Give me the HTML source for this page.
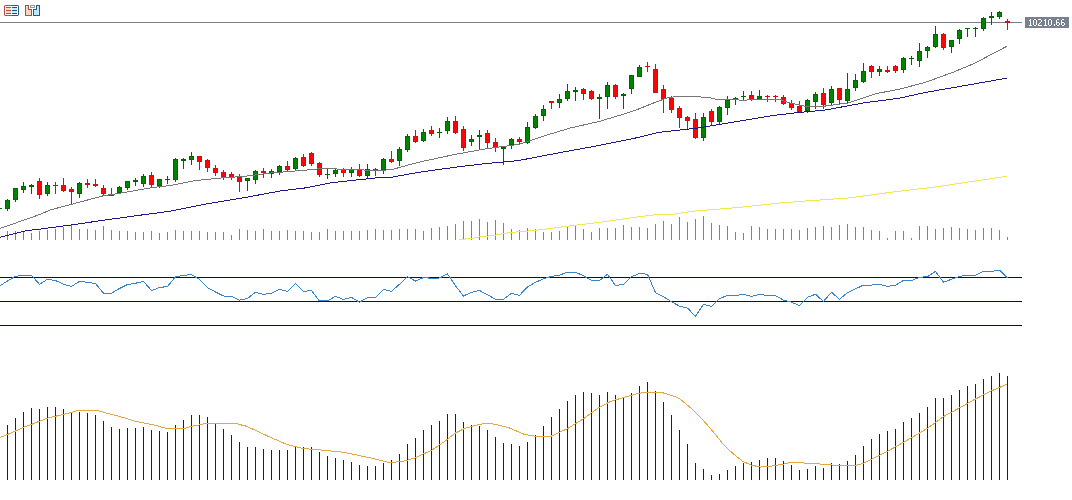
<!DOCTYPE html>
<html><head><meta charset="utf-8"><style>
html,body{margin:0;padding:0;background:#fff;width:1072px;height:500px;overflow:hidden;}
.wrap{position:relative;width:1072px;height:500px;}
svg{position:absolute;left:0;top:0;}
.lbl{position:absolute;left:1025px;top:17px;width:44px;height:11px;color:#fff;font-family:"Liberation Sans",sans-serif;font-size:9px;line-height:11px;text-align:center;letter-spacing:0px;transform:scaleY(1.12);transform-origin:50% 55%;}
</style></head><body><div class="wrap"><svg width="1072" height="500" viewBox="0 0 1072 500"><defs><clipPath id="mainclip"><rect x="0" y="23" width="1022" height="217"/></clipPath></defs><rect x="0" y="22" width="1022" height="1" fill="#7c7c84"/><g fill="#52a25c" shape-rendering="crispEdges"><rect x="7" y="231" width="1" height="9"/><rect x="15" y="231" width="1" height="9"/><rect x="23" y="232" width="1" height="8"/><rect x="31" y="233" width="1" height="7"/><rect x="39" y="231" width="1" height="9"/><rect x="47" y="230" width="1" height="10"/><rect x="55" y="229" width="1" height="11"/><rect x="63" y="227" width="1" height="13"/><rect x="71" y="225" width="1" height="15"/><rect x="79" y="229" width="1" height="11"/><rect x="87" y="229" width="1" height="11"/><rect x="95" y="230" width="1" height="10"/><rect x="103" y="226" width="1" height="14"/><rect x="111" y="230" width="1" height="10"/><rect x="119" y="231" width="1" height="9"/><rect x="127" y="231" width="1" height="9"/><rect x="135" y="232" width="1" height="8"/><rect x="143" y="232" width="1" height="8"/><rect x="151" y="231" width="1" height="9"/><rect x="159" y="233" width="1" height="7"/><rect x="167" y="232" width="1" height="8"/><rect x="175" y="230" width="1" height="10"/><rect x="183" y="231" width="1" height="9"/><rect x="191" y="231" width="1" height="9"/><rect x="199" y="231" width="1" height="9"/><rect x="207" y="232" width="1" height="8"/><rect x="215" y="232" width="1" height="8"/><rect x="223" y="232" width="1" height="8"/><rect x="231" y="235" width="1" height="5"/><rect x="239" y="229" width="1" height="11"/><rect x="247" y="230" width="1" height="10"/><rect x="255" y="231" width="1" height="9"/><rect x="263" y="229" width="1" height="11"/><rect x="271" y="231" width="1" height="9"/><rect x="279" y="231" width="1" height="9"/><rect x="287" y="230" width="1" height="10"/><rect x="295" y="231" width="1" height="9"/><rect x="303" y="231" width="1" height="9"/><rect x="311" y="232" width="1" height="8"/><rect x="319" y="232" width="1" height="8"/><rect x="327" y="229" width="1" height="11"/><rect x="335" y="231" width="1" height="9"/><rect x="343" y="231" width="1" height="9"/><rect x="351" y="231" width="1" height="9"/><rect x="359" y="231" width="1" height="9"/><rect x="367" y="230" width="1" height="10"/><rect x="375" y="229" width="1" height="11"/><rect x="383" y="230" width="1" height="10"/><rect x="391" y="230" width="1" height="10"/><rect x="399" y="229" width="1" height="11"/><rect x="407" y="229" width="1" height="11"/><rect x="415" y="229" width="1" height="11"/><rect x="423" y="231" width="1" height="9"/><rect x="431" y="228" width="1" height="12"/><rect x="439" y="227" width="1" height="13"/><rect x="447" y="226" width="1" height="14"/><rect x="455" y="224" width="1" height="16"/><rect x="463" y="221" width="1" height="19"/><rect x="471" y="221" width="1" height="19"/><rect x="479" y="219" width="1" height="21"/><rect x="487" y="222" width="1" height="18"/><rect x="495" y="220" width="1" height="20"/><rect x="503" y="223" width="1" height="17"/><rect x="511" y="229" width="1" height="11"/><rect x="519" y="230" width="1" height="10"/><rect x="527" y="228" width="1" height="12"/><rect x="535" y="229" width="1" height="11"/><rect x="543" y="232" width="1" height="8"/><rect x="551" y="232" width="1" height="8"/><rect x="559" y="231" width="1" height="9"/><rect x="567" y="227" width="1" height="13"/><rect x="575" y="226" width="1" height="14"/><rect x="583" y="229" width="1" height="11"/><rect x="591" y="232" width="1" height="8"/><rect x="599" y="228" width="1" height="12"/><rect x="607" y="228" width="1" height="12"/><rect x="615" y="228" width="1" height="12"/><rect x="623" y="225" width="1" height="15"/><rect x="631" y="227" width="1" height="13"/><rect x="639" y="227" width="1" height="13"/><rect x="647" y="228" width="1" height="12"/><rect x="655" y="224" width="1" height="16"/><rect x="663" y="221" width="1" height="19"/><rect x="671" y="224" width="1" height="16"/><rect x="679" y="217" width="1" height="23"/><rect x="687" y="222" width="1" height="18"/><rect x="695" y="219" width="1" height="21"/><rect x="703" y="216" width="1" height="24"/><rect x="711" y="223" width="1" height="17"/><rect x="719" y="225" width="1" height="15"/><rect x="727" y="226" width="1" height="14"/><rect x="735" y="232" width="1" height="8"/><rect x="743" y="233" width="1" height="7"/><rect x="751" y="226" width="1" height="14"/><rect x="759" y="227" width="1" height="13"/><rect x="767" y="229" width="1" height="11"/><rect x="775" y="229" width="1" height="11"/><rect x="783" y="229" width="1" height="11"/><rect x="791" y="229" width="1" height="11"/><rect x="799" y="230" width="1" height="10"/><rect x="807" y="228" width="1" height="12"/><rect x="815" y="227" width="1" height="13"/><rect x="823" y="226" width="1" height="14"/><rect x="831" y="227" width="1" height="13"/><rect x="839" y="225" width="1" height="15"/><rect x="847" y="224" width="1" height="16"/><rect x="855" y="227" width="1" height="13"/><rect x="863" y="227" width="1" height="13"/><rect x="871" y="230" width="1" height="10"/><rect x="879" y="231" width="1" height="9"/><rect x="887" y="238" width="1" height="2"/><rect x="895" y="231" width="1" height="9"/><rect x="903" y="231" width="1" height="9"/><rect x="911" y="238" width="1" height="2"/><rect x="919" y="226" width="1" height="14"/><rect x="927" y="226" width="1" height="14"/><rect x="935" y="229" width="1" height="11"/><rect x="943" y="228" width="1" height="12"/><rect x="951" y="227" width="1" height="13"/><rect x="959" y="228" width="1" height="12"/><rect x="967" y="229" width="1" height="11"/><rect x="975" y="230" width="1" height="10"/><rect x="983" y="228" width="1" height="12"/><rect x="991" y="228" width="1" height="12"/><rect x="999" y="230" width="1" height="10"/><rect x="1007" y="237" width="1" height="3"/></g><g shape-rendering="crispEdges"><rect x="-1" y="208" width="1" height="1" fill="#006600"/><rect x="-3" y="208" width="5" height="1" fill="#006600"/><rect x="7" y="199" width="1" height="12" fill="#006600"/><rect x="5" y="200" width="5" height="9" fill="#006600"/><rect x="6" y="201" width="3" height="7" fill="#008400"/><rect x="15" y="188" width="1" height="14" fill="#006600"/><rect x="13" y="188" width="5" height="12" fill="#006600"/><rect x="14" y="189" width="3" height="10" fill="#008400"/><rect x="23" y="182" width="1" height="11" fill="#006600"/><rect x="21" y="186" width="5" height="4" fill="#006600"/><rect x="22" y="187" width="3" height="2" fill="#008400"/><rect x="31" y="184" width="1" height="10" fill="#006600"/><rect x="29" y="185" width="5" height="2" fill="#006600"/><rect x="39" y="178" width="1" height="21" fill="#d01010"/><rect x="37" y="181" width="5" height="14" fill="#d01010"/><rect x="38" y="182" width="3" height="12" fill="#ff0404"/><rect x="47" y="182" width="1" height="14" fill="#006600"/><rect x="45" y="185" width="5" height="9" fill="#006600"/><rect x="46" y="186" width="3" height="7" fill="#008400"/><rect x="55" y="182" width="1" height="12" fill="#d01010"/><rect x="53" y="185" width="5" height="1" fill="#d01010"/><rect x="63" y="178" width="1" height="14" fill="#d01010"/><rect x="61" y="185" width="5" height="6" fill="#d01010"/><rect x="62" y="186" width="3" height="4" fill="#ff0404"/><rect x="71" y="187" width="1" height="17" fill="#d01010"/><rect x="69" y="189" width="5" height="3" fill="#d01010"/><rect x="70" y="190" width="3" height="1" fill="#ff0404"/><rect x="79" y="182" width="1" height="16" fill="#006600"/><rect x="77" y="183" width="5" height="11" fill="#006600"/><rect x="78" y="184" width="3" height="9" fill="#008400"/><rect x="87" y="179" width="1" height="9" fill="#d01010"/><rect x="85" y="183" width="5" height="2" fill="#d01010"/><rect x="95" y="179" width="1" height="8" fill="#d01010"/><rect x="93" y="184" width="5" height="2" fill="#d01010"/><rect x="103" y="185" width="1" height="11" fill="#d01010"/><rect x="101" y="188" width="5" height="6" fill="#d01010"/><rect x="102" y="189" width="3" height="4" fill="#ff0404"/><rect x="111" y="188" width="1" height="8" fill="#d01010"/><rect x="109" y="195" width="5" height="1" fill="#d01010"/><rect x="119" y="186" width="1" height="8" fill="#006600"/><rect x="117" y="187" width="5" height="6" fill="#006600"/><rect x="118" y="188" width="3" height="4" fill="#008400"/><rect x="127" y="181" width="1" height="9" fill="#006600"/><rect x="125" y="181" width="5" height="7" fill="#006600"/><rect x="126" y="182" width="3" height="5" fill="#008400"/><rect x="135" y="178" width="1" height="8" fill="#006600"/><rect x="133" y="180" width="5" height="2" fill="#006600"/><rect x="143" y="174" width="1" height="13" fill="#006600"/><rect x="141" y="176" width="5" height="8" fill="#006600"/><rect x="142" y="177" width="3" height="6" fill="#008400"/><rect x="151" y="172" width="1" height="16" fill="#d01010"/><rect x="149" y="175" width="5" height="10" fill="#d01010"/><rect x="150" y="176" width="3" height="8" fill="#ff0404"/><rect x="159" y="179" width="1" height="9" fill="#006600"/><rect x="157" y="179" width="5" height="7" fill="#006600"/><rect x="158" y="180" width="3" height="5" fill="#008400"/><rect x="167" y="176" width="1" height="8" fill="#006600"/><rect x="165" y="179" width="5" height="1" fill="#006600"/><rect x="175" y="158" width="1" height="24" fill="#006600"/><rect x="173" y="159" width="5" height="21" fill="#006600"/><rect x="174" y="160" width="3" height="19" fill="#008400"/><rect x="183" y="158" width="1" height="11" fill="#006600"/><rect x="181" y="159" width="5" height="2" fill="#006600"/><rect x="191" y="152" width="1" height="13" fill="#006600"/><rect x="189" y="156" width="5" height="4" fill="#006600"/><rect x="190" y="157" width="3" height="2" fill="#008400"/><rect x="199" y="156" width="1" height="14" fill="#d01010"/><rect x="197" y="156" width="5" height="6" fill="#d01010"/><rect x="198" y="157" width="3" height="4" fill="#ff0404"/><rect x="207" y="159" width="1" height="13" fill="#d01010"/><rect x="205" y="160" width="5" height="8" fill="#d01010"/><rect x="206" y="161" width="3" height="6" fill="#ff0404"/><rect x="215" y="165" width="1" height="11" fill="#d01010"/><rect x="213" y="168" width="5" height="5" fill="#d01010"/><rect x="214" y="169" width="3" height="3" fill="#ff0404"/><rect x="223" y="170" width="1" height="10" fill="#d01010"/><rect x="221" y="172" width="5" height="5" fill="#d01010"/><rect x="222" y="173" width="3" height="3" fill="#ff0404"/><rect x="231" y="172" width="1" height="8" fill="#d01010"/><rect x="229" y="174" width="5" height="4" fill="#d01010"/><rect x="230" y="175" width="3" height="2" fill="#ff0404"/><rect x="239" y="174" width="1" height="18" fill="#d01010"/><rect x="237" y="177" width="5" height="5" fill="#d01010"/><rect x="238" y="178" width="3" height="3" fill="#ff0404"/><rect x="247" y="178" width="1" height="13" fill="#006600"/><rect x="245" y="178" width="5" height="3" fill="#006600"/><rect x="246" y="179" width="3" height="1" fill="#008400"/><rect x="255" y="170" width="1" height="14" fill="#006600"/><rect x="253" y="171" width="5" height="9" fill="#006600"/><rect x="254" y="172" width="3" height="7" fill="#008400"/><rect x="263" y="168" width="1" height="10" fill="#d01010"/><rect x="261" y="171" width="5" height="2" fill="#d01010"/><rect x="271" y="169" width="1" height="9" fill="#006600"/><rect x="269" y="171" width="5" height="3" fill="#006600"/><rect x="270" y="172" width="3" height="1" fill="#008400"/><rect x="279" y="165" width="1" height="10" fill="#006600"/><rect x="277" y="166" width="5" height="6" fill="#006600"/><rect x="278" y="167" width="3" height="4" fill="#008400"/><rect x="287" y="161" width="1" height="11" fill="#d01010"/><rect x="285" y="166" width="5" height="4" fill="#d01010"/><rect x="286" y="167" width="3" height="2" fill="#ff0404"/><rect x="295" y="157" width="1" height="13" fill="#006600"/><rect x="293" y="158" width="5" height="11" fill="#006600"/><rect x="294" y="159" width="3" height="9" fill="#008400"/><rect x="303" y="154" width="1" height="13" fill="#d01010"/><rect x="301" y="157" width="5" height="9" fill="#d01010"/><rect x="302" y="158" width="3" height="7" fill="#ff0404"/><rect x="311" y="152" width="1" height="14" fill="#d01010"/><rect x="309" y="153" width="5" height="11" fill="#d01010"/><rect x="310" y="154" width="3" height="9" fill="#ff0404"/><rect x="319" y="162" width="1" height="15" fill="#d01010"/><rect x="317" y="163" width="5" height="12" fill="#d01010"/><rect x="318" y="164" width="3" height="10" fill="#ff0404"/><rect x="327" y="169" width="1" height="10" fill="#006600"/><rect x="325" y="174" width="5" height="1" fill="#006600"/><rect x="335" y="168" width="1" height="9" fill="#006600"/><rect x="333" y="170" width="5" height="4" fill="#006600"/><rect x="334" y="171" width="3" height="2" fill="#008400"/><rect x="343" y="168" width="1" height="9" fill="#d01010"/><rect x="341" y="169" width="5" height="4" fill="#d01010"/><rect x="342" y="170" width="3" height="2" fill="#ff0404"/><rect x="351" y="167" width="1" height="10" fill="#006600"/><rect x="349" y="169" width="5" height="4" fill="#006600"/><rect x="350" y="170" width="3" height="2" fill="#008400"/><rect x="359" y="164" width="1" height="13" fill="#d01010"/><rect x="357" y="169" width="5" height="7" fill="#d01010"/><rect x="358" y="170" width="3" height="5" fill="#ff0404"/><rect x="367" y="164" width="1" height="15" fill="#006600"/><rect x="365" y="169" width="5" height="7" fill="#006600"/><rect x="366" y="170" width="3" height="5" fill="#008400"/><rect x="375" y="168" width="1" height="8" fill="#d01010"/><rect x="373" y="169" width="5" height="1" fill="#d01010"/><rect x="383" y="158" width="1" height="16" fill="#006600"/><rect x="381" y="159" width="5" height="11" fill="#006600"/><rect x="382" y="160" width="3" height="9" fill="#008400"/><rect x="391" y="151" width="1" height="12" fill="#d01010"/><rect x="389" y="159" width="5" height="3" fill="#d01010"/><rect x="390" y="160" width="3" height="1" fill="#ff0404"/><rect x="399" y="147" width="1" height="19" fill="#006600"/><rect x="397" y="149" width="5" height="12" fill="#006600"/><rect x="398" y="150" width="3" height="10" fill="#008400"/><rect x="407" y="134" width="1" height="18" fill="#006600"/><rect x="405" y="136" width="5" height="14" fill="#006600"/><rect x="406" y="137" width="3" height="12" fill="#008400"/><rect x="415" y="130" width="1" height="13" fill="#d01010"/><rect x="413" y="136" width="5" height="6" fill="#d01010"/><rect x="414" y="137" width="3" height="4" fill="#ff0404"/><rect x="423" y="129" width="1" height="13" fill="#006600"/><rect x="421" y="132" width="5" height="9" fill="#006600"/><rect x="422" y="133" width="3" height="7" fill="#008400"/><rect x="431" y="126" width="1" height="10" fill="#d01010"/><rect x="429" y="130" width="5" height="4" fill="#d01010"/><rect x="430" y="131" width="3" height="2" fill="#ff0404"/><rect x="439" y="128" width="1" height="10" fill="#006600"/><rect x="437" y="132" width="5" height="1" fill="#006600"/><rect x="447" y="117" width="1" height="17" fill="#006600"/><rect x="445" y="121" width="5" height="10" fill="#006600"/><rect x="446" y="122" width="3" height="8" fill="#008400"/><rect x="455" y="116" width="1" height="18" fill="#d01010"/><rect x="453" y="121" width="5" height="12" fill="#d01010"/><rect x="454" y="122" width="3" height="10" fill="#ff0404"/><rect x="463" y="126" width="1" height="25" fill="#d01010"/><rect x="461" y="129" width="5" height="19" fill="#d01010"/><rect x="462" y="130" width="3" height="17" fill="#ff0404"/><rect x="471" y="135" width="1" height="11" fill="#006600"/><rect x="469" y="139" width="5" height="3" fill="#006600"/><rect x="470" y="140" width="3" height="1" fill="#008400"/><rect x="479" y="130" width="1" height="19" fill="#006600"/><rect x="477" y="135" width="5" height="2" fill="#006600"/><rect x="487" y="130" width="1" height="19" fill="#d01010"/><rect x="485" y="133" width="5" height="10" fill="#d01010"/><rect x="486" y="134" width="3" height="8" fill="#ff0404"/><rect x="495" y="138" width="1" height="14" fill="#d01010"/><rect x="493" y="142" width="5" height="6" fill="#d01010"/><rect x="494" y="143" width="3" height="4" fill="#ff0404"/><rect x="503" y="147" width="1" height="18" fill="#006600"/><rect x="501" y="147" width="5" height="2" fill="#006600"/><rect x="511" y="138" width="1" height="11" fill="#006600"/><rect x="509" y="139" width="5" height="6" fill="#006600"/><rect x="510" y="140" width="3" height="4" fill="#008400"/><rect x="519" y="137" width="1" height="7" fill="#d01010"/><rect x="517" y="139" width="5" height="3" fill="#d01010"/><rect x="518" y="140" width="3" height="1" fill="#ff0404"/><rect x="527" y="122" width="1" height="22" fill="#006600"/><rect x="525" y="127" width="5" height="16" fill="#006600"/><rect x="526" y="128" width="3" height="14" fill="#008400"/><rect x="535" y="114" width="1" height="15" fill="#006600"/><rect x="533" y="116" width="5" height="12" fill="#006600"/><rect x="534" y="117" width="3" height="10" fill="#008400"/><rect x="543" y="105" width="1" height="16" fill="#006600"/><rect x="541" y="109" width="5" height="7" fill="#006600"/><rect x="542" y="110" width="3" height="5" fill="#008400"/><rect x="551" y="101" width="1" height="8" fill="#d01010"/><rect x="549" y="101" width="5" height="2" fill="#d01010"/><rect x="559" y="94" width="1" height="14" fill="#006600"/><rect x="557" y="99" width="5" height="4" fill="#006600"/><rect x="558" y="100" width="3" height="2" fill="#008400"/><rect x="567" y="84" width="1" height="17" fill="#006600"/><rect x="565" y="91" width="5" height="8" fill="#006600"/><rect x="566" y="92" width="3" height="6" fill="#008400"/><rect x="575" y="87" width="1" height="14" fill="#006600"/><rect x="573" y="90" width="5" height="2" fill="#006600"/><rect x="583" y="88" width="1" height="12" fill="#d01010"/><rect x="581" y="89" width="5" height="5" fill="#d01010"/><rect x="582" y="90" width="3" height="3" fill="#ff0404"/><rect x="591" y="90" width="1" height="10" fill="#d01010"/><rect x="589" y="91" width="5" height="8" fill="#d01010"/><rect x="590" y="92" width="3" height="6" fill="#ff0404"/><rect x="599" y="94" width="1" height="25" fill="#006600"/><rect x="597" y="97" width="5" height="2" fill="#006600"/><rect x="607" y="82" width="1" height="27" fill="#006600"/><rect x="605" y="85" width="5" height="12" fill="#006600"/><rect x="606" y="86" width="3" height="10" fill="#008400"/><rect x="615" y="84" width="1" height="15" fill="#d01010"/><rect x="613" y="85" width="5" height="12" fill="#d01010"/><rect x="614" y="86" width="3" height="10" fill="#ff0404"/><rect x="623" y="93" width="1" height="16" fill="#006600"/><rect x="621" y="94" width="5" height="2" fill="#006600"/><rect x="631" y="75" width="1" height="19" fill="#006600"/><rect x="629" y="75" width="5" height="14" fill="#006600"/><rect x="630" y="76" width="3" height="12" fill="#008400"/><rect x="639" y="65" width="1" height="12" fill="#006600"/><rect x="637" y="67" width="5" height="10" fill="#006600"/><rect x="638" y="68" width="3" height="8" fill="#008400"/><rect x="647" y="62" width="1" height="10" fill="#d01010"/><rect x="645" y="66" width="5" height="1" fill="#d01010"/><rect x="655" y="64" width="1" height="29" fill="#d01010"/><rect x="653" y="69" width="5" height="24" fill="#d01010"/><rect x="654" y="70" width="3" height="22" fill="#ff0404"/><rect x="663" y="85" width="1" height="28" fill="#d01010"/><rect x="661" y="89" width="5" height="10" fill="#d01010"/><rect x="662" y="90" width="3" height="8" fill="#ff0404"/><rect x="671" y="96" width="1" height="17" fill="#d01010"/><rect x="669" y="98" width="5" height="12" fill="#d01010"/><rect x="670" y="99" width="3" height="10" fill="#ff0404"/><rect x="679" y="106" width="1" height="22" fill="#d01010"/><rect x="677" y="108" width="5" height="10" fill="#d01010"/><rect x="678" y="109" width="3" height="8" fill="#ff0404"/><rect x="687" y="116" width="1" height="13" fill="#d01010"/><rect x="685" y="117" width="5" height="4" fill="#d01010"/><rect x="686" y="118" width="3" height="2" fill="#ff0404"/><rect x="695" y="113" width="1" height="26" fill="#d01010"/><rect x="693" y="119" width="5" height="19" fill="#d01010"/><rect x="694" y="120" width="3" height="17" fill="#ff0404"/><rect x="703" y="113" width="1" height="28" fill="#006600"/><rect x="701" y="117" width="5" height="21" fill="#006600"/><rect x="702" y="118" width="3" height="19" fill="#008400"/><rect x="711" y="109" width="1" height="17" fill="#d01010"/><rect x="709" y="111" width="5" height="11" fill="#d01010"/><rect x="710" y="112" width="3" height="9" fill="#ff0404"/><rect x="719" y="106" width="1" height="19" fill="#006600"/><rect x="717" y="107" width="5" height="15" fill="#006600"/><rect x="718" y="108" width="3" height="13" fill="#008400"/><rect x="727" y="96" width="1" height="19" fill="#006600"/><rect x="725" y="100" width="5" height="8" fill="#006600"/><rect x="726" y="101" width="3" height="6" fill="#008400"/><rect x="735" y="97" width="1" height="8" fill="#006600"/><rect x="733" y="98" width="5" height="1" fill="#006600"/><rect x="743" y="91" width="1" height="9" fill="#006600"/><rect x="741" y="96" width="5" height="1" fill="#006600"/><rect x="751" y="91" width="1" height="10" fill="#d01010"/><rect x="749" y="95" width="5" height="5" fill="#d01010"/><rect x="750" y="96" width="3" height="3" fill="#ff0404"/><rect x="759" y="90" width="1" height="10" fill="#006600"/><rect x="757" y="96" width="5" height="3" fill="#006600"/><rect x="758" y="97" width="3" height="1" fill="#008400"/><rect x="767" y="95" width="1" height="7" fill="#d01010"/><rect x="765" y="96" width="5" height="1" fill="#d01010"/><rect x="775" y="95" width="1" height="7" fill="#d01010"/><rect x="773" y="96" width="5" height="1" fill="#d01010"/><rect x="783" y="95" width="1" height="10" fill="#d01010"/><rect x="781" y="97" width="5" height="7" fill="#d01010"/><rect x="782" y="98" width="3" height="5" fill="#ff0404"/><rect x="791" y="100" width="1" height="10" fill="#d01010"/><rect x="789" y="103" width="5" height="5" fill="#d01010"/><rect x="790" y="104" width="3" height="3" fill="#ff0404"/><rect x="799" y="101" width="1" height="12" fill="#d01010"/><rect x="797" y="106" width="5" height="6" fill="#d01010"/><rect x="798" y="107" width="3" height="4" fill="#ff0404"/><rect x="807" y="99" width="1" height="14" fill="#006600"/><rect x="805" y="100" width="5" height="11" fill="#006600"/><rect x="806" y="101" width="3" height="9" fill="#008400"/><rect x="815" y="92" width="1" height="17" fill="#006600"/><rect x="813" y="94" width="5" height="8" fill="#006600"/><rect x="814" y="95" width="3" height="6" fill="#008400"/><rect x="823" y="88" width="1" height="21" fill="#d01010"/><rect x="821" y="93" width="5" height="12" fill="#d01010"/><rect x="822" y="94" width="3" height="10" fill="#ff0404"/><rect x="831" y="86" width="1" height="19" fill="#006600"/><rect x="829" y="89" width="5" height="14" fill="#006600"/><rect x="830" y="90" width="3" height="12" fill="#008400"/><rect x="839" y="88" width="1" height="16" fill="#d01010"/><rect x="837" y="88" width="5" height="12" fill="#d01010"/><rect x="838" y="89" width="3" height="10" fill="#ff0404"/><rect x="847" y="73" width="1" height="30" fill="#006600"/><rect x="845" y="89" width="5" height="12" fill="#006600"/><rect x="846" y="90" width="3" height="10" fill="#008400"/><rect x="855" y="74" width="1" height="17" fill="#006600"/><rect x="853" y="80" width="5" height="8" fill="#006600"/><rect x="854" y="81" width="3" height="6" fill="#008400"/><rect x="863" y="63" width="1" height="20" fill="#006600"/><rect x="861" y="71" width="5" height="11" fill="#006600"/><rect x="862" y="72" width="3" height="9" fill="#008400"/><rect x="871" y="65" width="1" height="13" fill="#d01010"/><rect x="869" y="66" width="5" height="6" fill="#d01010"/><rect x="870" y="67" width="3" height="4" fill="#ff0404"/><rect x="879" y="66" width="1" height="10" fill="#006600"/><rect x="877" y="69" width="5" height="3" fill="#006600"/><rect x="878" y="70" width="3" height="1" fill="#008400"/><rect x="887" y="66" width="1" height="7" fill="#d01010"/><rect x="885" y="70" width="5" height="2" fill="#d01010"/><rect x="895" y="65" width="1" height="8" fill="#d01010"/><rect x="893" y="66" width="5" height="5" fill="#d01010"/><rect x="894" y="67" width="3" height="3" fill="#ff0404"/><rect x="903" y="57" width="1" height="16" fill="#006600"/><rect x="901" y="58" width="5" height="12" fill="#006600"/><rect x="902" y="59" width="3" height="10" fill="#008400"/><rect x="911" y="56" width="1" height="9" fill="#006600"/><rect x="909" y="58" width="5" height="1" fill="#006600"/><rect x="919" y="43" width="1" height="24" fill="#006600"/><rect x="917" y="51" width="5" height="10" fill="#006600"/><rect x="918" y="52" width="3" height="8" fill="#008400"/><rect x="927" y="46" width="1" height="12" fill="#006600"/><rect x="925" y="47" width="5" height="4" fill="#006600"/><rect x="926" y="48" width="3" height="2" fill="#008400"/><rect x="935" y="26" width="1" height="22" fill="#006600"/><rect x="933" y="34" width="5" height="13" fill="#006600"/><rect x="934" y="35" width="3" height="11" fill="#008400"/><rect x="943" y="33" width="1" height="17" fill="#d01010"/><rect x="941" y="34" width="5" height="14" fill="#d01010"/><rect x="942" y="35" width="3" height="12" fill="#ff0404"/><rect x="951" y="40" width="1" height="13" fill="#006600"/><rect x="949" y="40" width="5" height="7" fill="#006600"/><rect x="950" y="41" width="3" height="5" fill="#008400"/><rect x="959" y="29" width="1" height="15" fill="#006600"/><rect x="957" y="30" width="5" height="9" fill="#006600"/><rect x="958" y="31" width="3" height="7" fill="#008400"/><rect x="967" y="28" width="1" height="9" fill="#006600"/><rect x="965" y="28" width="5" height="1" fill="#006600"/><rect x="975" y="27" width="1" height="10" fill="#006600"/><rect x="973" y="28" width="5" height="1" fill="#006600"/><rect x="983" y="17" width="1" height="14" fill="#006600"/><rect x="981" y="18" width="5" height="11" fill="#006600"/><rect x="982" y="19" width="3" height="9" fill="#008400"/><rect x="991" y="12" width="1" height="13" fill="#006600"/><rect x="989" y="16" width="5" height="2" fill="#006600"/><rect x="999" y="11" width="1" height="8" fill="#006600"/><rect x="997" y="12" width="5" height="5" fill="#006600"/><rect x="998" y="13" width="3" height="3" fill="#008400"/><rect x="1007" y="19" width="1" height="11" fill="#d01010"/><rect x="1005" y="21" width="5" height="2" fill="#d01010"/></g><g clip-path="url(#mainclip)" shape-rendering="crispEdges"><polyline points="459.00,239.50 471.40,238.50 479.50,237.00 495.75,235.00 509.50,232.60 536.00,230.30 567.00,226.25 598.50,222.50 629.75,218.00 654.75,214.75 670.00,214.70 695.00,211.00 738.75,207.50 780.00,203.00 804.00,201.10 848.40,198.00 893.00,192.00 938.00,186.70 971.60,181.50 1007.00,176.30" fill="none" stroke="#f0e850" stroke-width="1" /><polyline points="0.00,237.30 26.00,230.80 44.00,228.60 71.00,225.00 102.50,220.40 134.00,216.00 170.00,211.25 207.50,203.75 245.00,197.50 282.50,190.60 304.00,188.10 333.00,182.50 380.00,177.50 392.50,177.10 417.50,172.50 455.00,167.25 486.25,163.50 514.00,161.00 520.00,160.25 557.50,153.10 595.00,146.25 632.50,138.75 654.00,133.50 660.00,132.25 700.00,127.75 735.00,121.90 772.50,115.60 794.00,113.00 825.50,110.00 863.00,103.00 900.00,98.10 925.00,92.50 962.50,86.00 1007.00,78.10" fill="none" stroke="#1a1a8a" stroke-width="1" /><polyline points="0.00,228.50 40.00,214.40 50.00,210.00 71.25,204.40 102.50,196.00 127.50,191.90 152.50,187.50 170.00,185.60 195.00,180.60 220.00,178.10 245.00,176.25 270.00,173.10 304.00,170.25 323.00,168.50 380.00,170.60 392.50,169.40 417.50,162.50 455.00,154.40 486.25,148.75 514.00,145.00 520.00,144.00 545.00,135.60 570.00,128.10 600.00,121.25 620.00,115.20 636.00,110.00 656.00,102.00 668.00,97.60 678.00,96.30 691.00,96.60 707.50,97.25 717.00,99.40 734.00,99.40 741.00,100.25 760.00,99.40 780.00,99.40 788.00,102.50 794.00,103.75 804.00,106.00 825.50,106.00 848.00,103.00 875.50,93.75 900.00,89.00 925.00,82.50 952.50,72.50 975.00,63.10 993.75,53.10 1007.00,46.25" fill="none" stroke="#767676" stroke-width="1" /></g><g fill="#0c0c50"><rect x="0" y="277" width="1022" height="1"/><rect x="0" y="301" width="1022" height="1"/><rect x="0" y="325" width="1022" height="1"/></g><polyline points="-0.50,286.00 7.50,281.00 15.50,276.30 23.50,275.40 31.50,275.40 39.50,284.30 47.50,279.25 55.50,280.50 63.50,284.25 71.50,286.40 79.50,281.40 87.50,282.25 95.50,283.50 103.50,293.25 111.50,293.25 119.50,288.50 127.50,284.50 135.50,283.25 143.50,281.40 151.50,290.50 159.50,287.60 167.50,286.40 175.50,276.75 183.50,275.50 191.50,274.50 199.50,279.50 207.50,287.60 215.50,292.00 223.50,296.00 231.50,296.40 239.50,300.10 247.50,298.50 255.50,292.25 263.50,294.40 271.50,293.25 279.50,289.25 287.50,291.40 295.50,283.50 303.50,291.40 311.50,290.50 319.50,301.00 327.50,300.75 335.50,296.40 343.50,299.50 351.50,297.40 359.50,302.25 367.50,297.60 375.50,297.40 383.50,289.25 391.50,291.40 399.50,284.25 407.50,276.75 415.50,281.00 423.50,277.60 431.50,278.25 439.50,278.00 447.50,273.90 455.50,285.75 463.50,296.00 471.50,292.25 479.50,290.50 487.50,294.75 495.50,299.25 503.50,299.25 511.50,293.25 519.50,295.30 527.50,287.00 535.50,282.25 543.50,278.90 551.50,276.40 559.50,275.10 567.50,272.25 575.50,272.25 583.50,275.75 591.50,280.50 599.50,280.50 607.50,274.25 615.50,285.50 623.50,284.50 631.50,276.75 639.50,273.50 647.50,274.30 655.50,292.70 663.50,296.80 671.50,301.70 679.50,306.20 687.50,308.10 695.50,316.40 703.50,304.25 711.50,306.50 719.50,298.50 727.50,295.50 735.50,295.50 743.50,294.30 751.50,296.30 759.50,294.30 767.50,295.50 775.50,295.50 783.50,300.10 791.50,302.25 799.50,305.50 807.50,297.25 815.50,294.25 823.50,301.40 831.50,292.25 839.50,299.25 847.50,292.60 855.50,288.90 863.50,285.10 871.50,285.10 879.50,284.25 887.50,286.40 895.50,285.10 903.50,280.50 911.50,280.50 919.50,277.25 927.50,276.75 935.50,271.40 943.50,282.25 951.50,279.25 959.50,276.40 967.50,275.10 975.50,275.10 983.50,271.40 991.50,271.40 999.50,270.10 1007.50,278.00" fill="none" stroke="#3c84c8" stroke-width="1" shape-rendering="crispEdges"/><g fill="#141488" shape-rendering="crispEdges"><rect x="7" y="425" width="1" height="55"/><rect x="15" y="418" width="1" height="62"/><rect x="23" y="412" width="1" height="68"/><rect x="31" y="408" width="1" height="72"/><rect x="39" y="409" width="1" height="71"/><rect x="47" y="407" width="1" height="73"/><rect x="55" y="407" width="1" height="73"/><rect x="63" y="409" width="1" height="71"/><rect x="71" y="413" width="1" height="67"/><rect x="79" y="412" width="1" height="68"/><rect x="87" y="413" width="1" height="67"/><rect x="95" y="415" width="1" height="65"/><rect x="103" y="421" width="1" height="59"/><rect x="111" y="427" width="1" height="53"/><rect x="119" y="429" width="1" height="51"/><rect x="127" y="428" width="1" height="52"/><rect x="135" y="428" width="1" height="52"/><rect x="143" y="427" width="1" height="53"/><rect x="151" y="430" width="1" height="50"/><rect x="159" y="431" width="1" height="49"/><rect x="167" y="432" width="1" height="48"/><rect x="175" y="425" width="1" height="55"/><rect x="183" y="420" width="1" height="60"/><rect x="191" y="415" width="1" height="65"/><rect x="199" y="415" width="1" height="65"/><rect x="207" y="417" width="1" height="63"/><rect x="215" y="424" width="1" height="56"/><rect x="223" y="429" width="1" height="51"/><rect x="231" y="435" width="1" height="45"/><rect x="239" y="442" width="1" height="38"/><rect x="247" y="447" width="1" height="33"/><rect x="255" y="447" width="1" height="33"/><rect x="263" y="449" width="1" height="31"/><rect x="271" y="450" width="1" height="30"/><rect x="279" y="450" width="1" height="30"/><rect x="287" y="450" width="1" height="30"/><rect x="295" y="447" width="1" height="33"/><rect x="303" y="447" width="1" height="33"/><rect x="311" y="447" width="1" height="33"/><rect x="319" y="452" width="1" height="28"/><rect x="327" y="456" width="1" height="24"/><rect x="335" y="458" width="1" height="22"/><rect x="343" y="460" width="1" height="20"/><rect x="351" y="462" width="1" height="18"/><rect x="359" y="465" width="1" height="15"/><rect x="367" y="466" width="1" height="14"/><rect x="375" y="466" width="1" height="14"/><rect x="383" y="463" width="1" height="17"/><rect x="391" y="460" width="1" height="20"/><rect x="399" y="454" width="1" height="26"/><rect x="407" y="444" width="1" height="36"/><rect x="415" y="438" width="1" height="42"/><rect x="423" y="430" width="1" height="50"/><rect x="431" y="425" width="1" height="55"/><rect x="439" y="421" width="1" height="59"/><rect x="447" y="414" width="1" height="66"/><rect x="455" y="414" width="1" height="66"/><rect x="463" y="422" width="1" height="58"/><rect x="471" y="425" width="1" height="55"/><rect x="479" y="426" width="1" height="54"/><rect x="487" y="430" width="1" height="50"/><rect x="495" y="437" width="1" height="43"/><rect x="503" y="443" width="1" height="37"/><rect x="511" y="444" width="1" height="36"/><rect x="519" y="446" width="1" height="34"/><rect x="527" y="442" width="1" height="38"/><rect x="535" y="435" width="1" height="45"/><rect x="543" y="426" width="1" height="54"/><rect x="551" y="417" width="1" height="63"/><rect x="559" y="409" width="1" height="71"/><rect x="567" y="401" width="1" height="79"/><rect x="575" y="395" width="1" height="85"/><rect x="583" y="392" width="1" height="88"/><rect x="591" y="393" width="1" height="87"/><rect x="599" y="395" width="1" height="85"/><rect x="607" y="392" width="1" height="88"/><rect x="615" y="395" width="1" height="85"/><rect x="623" y="398" width="1" height="82"/><rect x="631" y="393" width="1" height="87"/><rect x="639" y="386" width="1" height="94"/><rect x="647" y="382" width="1" height="98"/><rect x="655" y="391" width="1" height="89"/><rect x="663" y="402" width="1" height="78"/><rect x="671" y="415" width="1" height="65"/><rect x="679" y="430" width="1" height="50"/><rect x="687" y="444" width="1" height="36"/><rect x="695" y="463" width="1" height="17"/><rect x="703" y="469" width="1" height="11"/><rect x="711" y="475" width="1" height="5"/><rect x="719" y="474" width="1" height="6"/><rect x="727" y="470" width="1" height="10"/><rect x="735" y="466" width="1" height="14"/><rect x="743" y="463" width="1" height="17"/><rect x="751" y="462" width="1" height="18"/><rect x="759" y="460" width="1" height="20"/><rect x="767" y="458" width="1" height="22"/><rect x="775" y="458" width="1" height="22"/><rect x="783" y="461" width="1" height="19"/><rect x="791" y="465" width="1" height="15"/><rect x="799" y="470" width="1" height="10"/><rect x="807" y="469" width="1" height="11"/><rect x="815" y="466" width="1" height="14"/><rect x="823" y="468" width="1" height="12"/><rect x="831" y="463" width="1" height="17"/><rect x="839" y="464" width="1" height="16"/><rect x="847" y="461" width="1" height="19"/><rect x="855" y="455" width="1" height="25"/><rect x="863" y="446" width="1" height="34"/><rect x="871" y="439" width="1" height="41"/><rect x="879" y="434" width="1" height="46"/><rect x="887" y="431" width="1" height="49"/><rect x="895" y="429" width="1" height="51"/><rect x="903" y="422" width="1" height="58"/><rect x="911" y="418" width="1" height="62"/><rect x="919" y="413" width="1" height="67"/><rect x="927" y="407" width="1" height="73"/><rect x="935" y="398" width="1" height="82"/><rect x="943" y="398" width="1" height="82"/><rect x="951" y="395" width="1" height="85"/><rect x="959" y="390" width="1" height="90"/><rect x="967" y="386" width="1" height="94"/><rect x="975" y="384" width="1" height="96"/><rect x="983" y="379" width="1" height="101"/><rect x="991" y="376" width="1" height="104"/><rect x="999" y="373" width="1" height="107"/><rect x="1007" y="376" width="1" height="104"/></g><polyline points="0.00,437.50 7.50,434.40 15.50,431.00 23.50,427.25 31.50,424.40 39.50,421.25 47.50,418.10 55.50,416.25 63.50,414.40 71.50,412.50 77.50,410.60 87.50,410.60 97.50,410.60 103.50,412.25 111.50,414.40 119.50,416.50 127.50,418.75 134.00,421.00 144.00,423.10 156.50,425.60 166.50,428.50 184.00,428.50 191.50,426.25 199.00,425.00 206.50,423.10 234.00,423.10 246.50,426.25 259.00,431.90 268.00,436.25 286.75,444.40 303.00,448.50 324.25,450.25 343.00,452.25 355.50,454.75 374.25,458.75 389.25,462.50 402.00,461.60 414.50,458.10 432.00,450.00 447.00,439.75 454.50,433.50 464.50,428.50 477.00,425.00 487.00,423.10 495.75,424.40 508.25,427.50 524.50,434.40 536.00,436.40 551.00,436.25 567.25,428.75 583.50,418.75 598.50,407.75 611.00,401.25 623.50,397.50 639.75,393.10 648.50,392.25 661.00,392.25 670.00,394.90 679.20,398.30 690.25,407.50 703.00,420.00 713.75,432.50 723.75,445.00 732.50,453.10 742.50,461.25 751.25,465.00 760.00,467.10 770.00,466.25 782.50,464.40 790.00,462.50 804.00,463.00 819.00,463.50 821.50,464.40 836.50,465.25 856.50,465.25 864.00,463.10 879.00,455.60 894.00,447.75 910.25,438.50 920.25,432.50 929.00,427.25 938.00,420.60 943.75,416.40 960.00,407.60 975.00,399.25 991.25,391.00 1006.90,384.25" fill="none" stroke="#e4a640" stroke-width="1" shape-rendering="crispEdges"/>
<g shape-rendering="crispEdges">
 <rect x="4" y="5" width="15" height="11" fill="#ffffff"/>
 <rect x="6" y="7" width="5" height="7" fill="#fcd9cc"/>
 <rect x="12" y="7" width="5" height="7" fill="#c9eeff"/>
 <rect x="5" y="5" width="7" height="1" fill="#b84a44"/>
 <rect x="5" y="15" width="7" height="1" fill="#b84a44"/>
 <rect x="4" y="6" width="1" height="9" fill="#b84a44"/>
 <rect x="12" y="5" width="6" height="1" fill="#245e8c"/>
 <rect x="12" y="15" width="6" height="1" fill="#245e8c"/>
 <rect x="18" y="6" width="1" height="9" fill="#245e8c"/>
 <rect x="4" y="5" width="1" height="1" fill="#e2b4b0"/>
 <rect x="4" y="15" width="1" height="1" fill="#e2b4b0"/>
 <rect x="18" y="5" width="1" height="1" fill="#a8c0d4"/>
 <rect x="18" y="15" width="1" height="1" fill="#a8c0d4"/>
 <rect x="6" y="7" width="5" height="1" fill="#c04a3c"/>
 <rect x="6" y="10" width="5" height="1" fill="#c04a3c"/>
 <rect x="6" y="13" width="5" height="1" fill="#c04a3c"/>
 <rect x="12" y="7" width="5" height="1" fill="#17528a"/>
 <rect x="12" y="10" width="5" height="1" fill="#17528a"/>
 <rect x="12" y="13" width="5" height="1" fill="#17528a"/>
</g>
<g shape-rendering="crispEdges">
 <path d="M25.5,5.5 H28.5 V9.5 H31.5 V15.5 H25.5 Z" fill="#fdd3c4" stroke="#b84a44" stroke-width="1"/>
 <path d="M36.5,5.5 H39.5 V15.5 H33.5 V9.5 H36.5 Z" fill="#bde8ff" stroke="#245e8c" stroke-width="1"/>
 <rect x="30.5" y="5.5" width="4" height="2" fill="#ffffff" stroke="#999999" stroke-width="1"/>
</g>
<rect x="1025" y="17" width="44" height="11" fill="#77818f" shape-rendering="crispEdges"/><g fill="#ffffff" shape-rendering="crispEdges"><rect x="1030" y="19" width="1" height="1"/><rect x="1029" y="20" width="1" height="1"/><rect x="1030" y="20" width="1" height="1"/><rect x="1030" y="21" width="1" height="1"/><rect x="1030" y="22" width="1" height="1"/><rect x="1030" y="23" width="1" height="1"/><rect x="1030" y="24" width="1" height="1"/><rect x="1029" y="25" width="1" height="1"/><rect x="1030" y="25" width="1" height="1"/><rect x="1031" y="25" width="1" height="1"/><rect x="1034" y="19" width="1" height="1"/><rect x="1035" y="19" width="1" height="1"/><rect x="1033" y="20" width="1" height="1"/><rect x="1036" y="20" width="1" height="1"/><rect x="1033" y="21" width="1" height="1"/><rect x="1036" y="21" width="1" height="1"/><rect x="1033" y="22" width="1" height="1"/><rect x="1036" y="22" width="1" height="1"/><rect x="1033" y="23" width="1" height="1"/><rect x="1036" y="23" width="1" height="1"/><rect x="1033" y="24" width="1" height="1"/><rect x="1036" y="24" width="1" height="1"/><rect x="1034" y="25" width="1" height="1"/><rect x="1035" y="25" width="1" height="1"/><rect x="1038" y="19" width="1" height="1"/><rect x="1039" y="19" width="1" height="1"/><rect x="1040" y="19" width="1" height="1"/><rect x="1041" y="20" width="1" height="1"/><rect x="1041" y="21" width="1" height="1"/><rect x="1040" y="22" width="1" height="1"/><rect x="1039" y="23" width="1" height="1"/><rect x="1038" y="24" width="1" height="1"/><rect x="1038" y="25" width="1" height="1"/><rect x="1039" y="25" width="1" height="1"/><rect x="1040" y="25" width="1" height="1"/><rect x="1041" y="25" width="1" height="1"/><rect x="1045" y="19" width="1" height="1"/><rect x="1044" y="20" width="1" height="1"/><rect x="1045" y="20" width="1" height="1"/><rect x="1045" y="21" width="1" height="1"/><rect x="1045" y="22" width="1" height="1"/><rect x="1045" y="23" width="1" height="1"/><rect x="1045" y="24" width="1" height="1"/><rect x="1044" y="25" width="1" height="1"/><rect x="1045" y="25" width="1" height="1"/><rect x="1046" y="25" width="1" height="1"/><rect x="1049" y="19" width="1" height="1"/><rect x="1050" y="19" width="1" height="1"/><rect x="1048" y="20" width="1" height="1"/><rect x="1051" y="20" width="1" height="1"/><rect x="1048" y="21" width="1" height="1"/><rect x="1051" y="21" width="1" height="1"/><rect x="1048" y="22" width="1" height="1"/><rect x="1051" y="22" width="1" height="1"/><rect x="1048" y="23" width="1" height="1"/><rect x="1051" y="23" width="1" height="1"/><rect x="1048" y="24" width="1" height="1"/><rect x="1051" y="24" width="1" height="1"/><rect x="1049" y="25" width="1" height="1"/><rect x="1050" y="25" width="1" height="1"/><rect x="1054" y="24" width="1" height="1"/><rect x="1054" y="25" width="1" height="1"/><rect x="1057" y="19" width="1" height="1"/><rect x="1058" y="19" width="1" height="1"/><rect x="1056" y="20" width="1" height="1"/><rect x="1056" y="21" width="1" height="1"/><rect x="1056" y="22" width="1" height="1"/><rect x="1057" y="22" width="1" height="1"/><rect x="1058" y="22" width="1" height="1"/><rect x="1056" y="23" width="1" height="1"/><rect x="1059" y="23" width="1" height="1"/><rect x="1056" y="24" width="1" height="1"/><rect x="1059" y="24" width="1" height="1"/><rect x="1057" y="25" width="1" height="1"/><rect x="1058" y="25" width="1" height="1"/><rect x="1062" y="19" width="1" height="1"/><rect x="1063" y="19" width="1" height="1"/><rect x="1061" y="20" width="1" height="1"/><rect x="1061" y="21" width="1" height="1"/><rect x="1061" y="22" width="1" height="1"/><rect x="1062" y="22" width="1" height="1"/><rect x="1063" y="22" width="1" height="1"/><rect x="1061" y="23" width="1" height="1"/><rect x="1064" y="23" width="1" height="1"/><rect x="1061" y="24" width="1" height="1"/><rect x="1064" y="24" width="1" height="1"/><rect x="1062" y="25" width="1" height="1"/><rect x="1063" y="25" width="1" height="1"/></g></svg></div></body></html>
